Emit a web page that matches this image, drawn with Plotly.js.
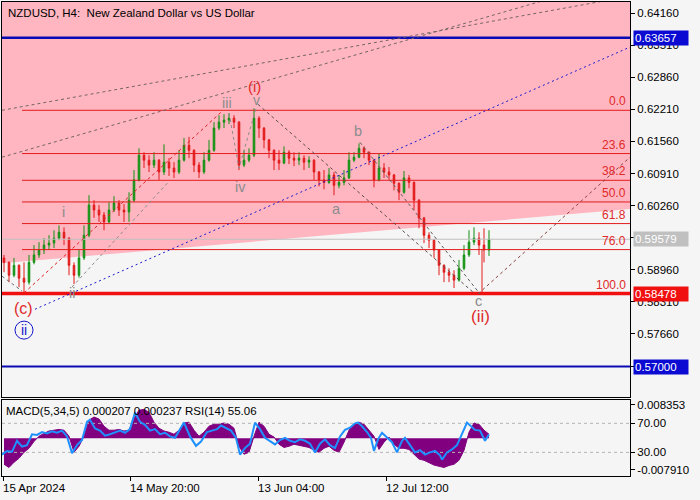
<!DOCTYPE html>
<html><head><meta charset="utf-8">
<script src="https://cdn.plot.ly/plotly-3.0.1.min.js"></script>
<style>html,body{margin:0;padding:0;background:#F5F5F5;}#chart{width:700px;height:500px;}</style>
</head><body><div id="chart"></div>
<script>
// ---------- text ----------
const chartTitle = 'NZDUSD, H4:\u00A0\u00A0New Zealand Dollar vs US Dollar';
const indicatorTitle = 'MACD(5,34,5) 0.000207 0.000237 RSI(14) 55.06';
const dateTickBars = [1, 128, 256, 384];
const dateTickLabels = ['15 Apr 2024', '14 May 20:00', '13 Jun 04:00', '12 Jul 12:00'];
const priceTicks = [0.64160, 0.63510, 0.62860, 0.62210, 0.61560, 0.60910, 0.60260, 0.59610, 0.58960, 0.58310, 0.57660, 0.57010];
// tick labels that sit under the price boxes on the right are not shown
const priceTickLabels = ['0.64160', '0.63510', '0.62860', '0.62210', '0.61560', '0.60910', '0.60260', '', '0.58960', '0.58310', '0.57660', ''];

// ---------- price data (5-bar groups, H4) ----------
const candleOpen = [0.5920,0.5911,0.5885,0.5905,0.5879,0.5871,0.5911,0.5926,0.5936,0.5946,
0.5950,0.5960,0.5972,0.5960,0.5905,0.5885,0.5920,0.5966,0.6027,0.6017,
0.6007,0.5993,0.6017,0.6031,0.6017,0.6013,0.6037,0.6078,0.6128,0.6118,
0.6108,0.6118,0.6094,0.6114,0.6102,0.6094,0.6118,0.6148,0.6138,0.6108,
0.6094,0.6118,0.6138,0.6183,0.6195,0.6199,0.6203,0.6195,0.6108,0.6118,
0.6128,0.6203,0.6183,0.6159,0.6138,0.6118,0.6112,0.6134,0.6122,0.6118,
0.6122,0.6114,0.6118,0.6094,0.6078,0.6073,0.6088,0.6067,0.6073,0.6082,
0.6118,0.6124,0.6142,0.6134,0.6118,0.6078,0.6102,0.6094,0.6088,0.6071,
0.6053,0.6082,0.6073,0.6037,0.6001,0.5966,0.5956,0.5936,0.5905,0.5891,
0.5885,0.5875,0.5899,0.5926,0.5952,0.5960,0.5946,0.5936];
const candleHigh = [0.5926,0.5913,0.5920,0.5907,0.5911,0.5926,0.5946,0.5952,0.5960,0.5966,
0.5976,0.5986,0.5982,0.5962,0.5911,0.5936,0.5986,0.6047,0.6037,0.6027,
0.6013,0.6033,0.6045,0.6037,0.6029,0.6053,0.6098,0.6142,0.6134,0.6128,
0.6134,0.6120,0.6150,0.6122,0.6114,0.6138,0.6163,0.6165,0.6140,0.6114,
0.6134,0.6159,0.6195,0.6209,0.6211,0.6213,0.6209,0.6197,0.6138,0.6142,
0.6223,0.6207,0.6185,0.6161,0.6140,0.6138,0.6146,0.6138,0.6134,0.6134,
0.6128,0.6126,0.6120,0.6096,0.6098,0.6102,0.6094,0.6088,0.6098,0.6134,
0.6134,0.6152,0.6146,0.6136,0.6120,0.6132,0.6112,0.6104,0.6090,0.6073,
0.6096,0.6088,0.6075,0.6039,0.6003,0.5972,0.5958,0.5938,0.5907,0.5899,
0.5895,0.5916,0.5946,0.5976,0.5982,0.5972,0.5980,0.5976];
const candleLow = [0.5891,0.5871,0.5881,0.5861,0.5848,0.5866,0.5907,0.5920,0.5928,0.5936,
0.5940,0.5956,0.5946,0.5885,0.5867,0.5880,0.5916,0.5962,0.6001,0.5993,
0.5976,0.5990,0.6013,0.6005,0.5993,0.5993,0.6033,0.6075,0.6102,0.6094,
0.6102,0.6078,0.6088,0.6086,0.6082,0.6090,0.6115,0.6122,0.6094,0.6082,
0.6090,0.6115,0.6135,0.6179,0.6183,0.6191,0.6183,0.6098,0.6104,0.6114,
0.6124,0.6163,0.6142,0.6122,0.6098,0.6098,0.6110,0.6110,0.6106,0.6108,
0.6098,0.6102,0.6078,0.6065,0.6059,0.6070,0.6047,0.6061,0.6067,0.6080,
0.6114,0.6122,0.6122,0.6108,0.6063,0.6075,0.6082,0.6078,0.6057,0.6037,
0.6050,0.6061,0.6017,0.5980,0.5950,0.5940,0.5920,0.5885,0.5871,0.5871,
0.5859,0.5872,0.5895,0.5922,0.5946,0.5926,0.5911,0.5924];
const candleClose = [0.5911,0.5885,0.5905,0.5879,0.5871,0.5911,0.5926,0.5936,0.5946,0.5950,
0.5960,0.5972,0.5960,0.5905,0.5885,0.5920,0.5966,0.6027,0.6017,0.6007,
0.5993,0.6017,0.6031,0.6017,0.6013,0.6037,0.6078,0.6128,0.6118,0.6108,
0.6118,0.6094,0.6114,0.6102,0.6094,0.6118,0.6148,0.6138,0.6108,0.6094,
0.6118,0.6138,0.6183,0.6195,0.6199,0.6203,0.6195,0.6108,0.6118,0.6128,
0.6203,0.6183,0.6159,0.6138,0.6118,0.6112,0.6134,0.6122,0.6118,0.6122,
0.6114,0.6118,0.6094,0.6078,0.6073,0.6088,0.6067,0.6073,0.6082,0.6118,
0.6124,0.6142,0.6134,0.6118,0.6078,0.6102,0.6094,0.6088,0.6071,0.6053,
0.6082,0.6073,0.6037,0.6001,0.5966,0.5956,0.5936,0.5905,0.5891,0.5885,
0.5875,0.5899,0.5926,0.5952,0.5960,0.5946,0.5936,0.5958];
// bar index of each group (time axis, one unit per H4 bar)
const groupBars = candleClose.map((_, i) => 2 + 5 * i);

// ---------- indicators ----------
const macdHist = [-0.0065,-0.0073,-0.0060,-0.0050,-0.0035,-0.0025,-0.0008,0.0005,0.0012,0.0018,
0.0020,0.0022,0.0020,0.0005,-0.0035,-0.0020,0.0005,0.0045,0.0053,0.0048,
0.0030,0.0020,0.0020,0.0022,0.0018,0.0020,0.0050,0.0070,0.0072,0.0065,
0.0040,0.0025,0.0018,0.0015,0.0010,0.0020,0.0038,0.0040,0.0020,0.0005,
0.0015,0.0030,0.0035,0.0035,0.0038,0.0035,0.0025,-0.0020,-0.0040,-0.0035,
0.0005,0.0040,0.0030,0.0010,0.0003,-0.0015,-0.0023,-0.0020,-0.0015,-0.0018,
-0.0020,-0.0023,-0.0030,-0.0035,-0.0025,-0.0020,-0.0030,-0.0035,-0.0010,0.0020,
0.0035,0.0040,0.0035,0.0020,0.0005,-0.0028,-0.0010,0.0003,-0.0015,-0.0025,
-0.0025,-0.0028,-0.0040,-0.0052,-0.0055,-0.0060,-0.0067,-0.0070,-0.0073,-0.0068,
-0.0065,-0.0055,-0.0030,0.0015,0.0038,0.0035,0.0020,0.0010];
const rsiBars = [0,5,10,15,20,25,30,35,40,45,50,55,60,65,70,75,80,85,88,93,98,103,108,113,118,123,128,133,138,143,148,153,158,163,168,173,178,182,188,194,199,205,210,215,219,224,229,234,238,243,248,253,258,263,268,273,278,283,288,293,298,303,308,313,318,323,328,333,338,343,348,353,356,360,365,369,372,376,380,385,390,395,400,403,408,413,418,423,428,433,438,440,445,450,455,460,465,469,473,478,483,487];
const rsiValues = [27,32,31,46,38,40,55,54,58,56,59,57,60,52,29,40,47,72,75,63,60,53,55,58,60,57,62,85,72,68,60,62,55,57,52,50,62,71,52,39,45,58,60,62,67,64,60,50,27,36,42,71,62,50,46,41,47,50,46,44,48,46,42,30,42,48,40,36,52,61,64,70,71,66,58,50,32,48,57,50,44,30,46,50,40,30,33,27,30,32,26,20,30,34,40,55,71,66,61,60,46,55.06];
const rsiLevels = [70, 30];

// ---------- levels ----------
const resistanceLevel = 0.63657;
const supportLevel = 0.57000;
const targetLevel = 0.58478;
const lastPrice = 0.59579;
const fibHigh = 0.6219;
const fibLow = 0.58478;
const fibRatios = [0.0, 23.6, 38.2, 50.0, 61.8, 76.0, 100.0];
const fibStartBar = 20;

// ---------- drawn objects (bar, price) ----------
const pinkZoneBars = [0, 628];
const pinkZonePrices = [0.5909, 0.6019];
const channelUpperBars = [0, 628], channelUpperPrices = [0.6219, 0.6450];
const channelLowerBars = [0, 560], channelLowerPrices = [0.6124, 0.6452];
const blueTrendBars = [33, 628], blueTrendPrices = [0.5816, 0.6347];
const redWaveBars = [22, 219], redWavePrices = [0.5849, 0.6215];
const grayIIBars = [70, 166], grayIIPrices = [0.5861, 0.6073];
const grayIVBars = [227, 237, 254], grayIVPrices = [0.6213, 0.6102, 0.6223];
const grayInBars = [0, 20], grayInPrices = [0.5883, 0.5853];
const vToCBars = [256, 472], vToCPrices = [0.6231, 0.5849];
const bToCBars = [358, 478], bToCPrices = [0.6154, 0.5847];
const projBars = [476, 628], projPrices = [0.5847, 0.6124];
const markerBar = 480;

const waveLabels = [
  {t:'i', bar:61, p:0.6013, c:'#8c8c8c', s:14.5},
  {t:'ii', bar:70, p:0.5849, c:'#8c8c8c', s:14.5},
  {t:'iii', bar:225, p:0.6233, c:'#8c8c8c', s:14.5},
  {t:'iv', bar:238, p:0.6063, c:'#8c8c8c', s:14.5},
  {t:'v', bar:254, p:0.6240, c:'#8c8c8c', s:14},
  {t:'a', bar:334, p:0.6019, c:'#8c8c8c', s:14.5},
  {t:'b', bar:356, p:0.6177, c:'#8c8c8c', s:14.5},
  {t:'c', bar:476, p:0.5833, c:'#8c8c8c', s:14.5},
  {t:'(i)', bar:252, p:0.6268, c:'#e02a2a', s:15},
  {t:'(ii)', bar:478, p:0.5802, c:'#e02a2a', s:17},
  {t:'(c)', bar:21, p:0.5818, c:'#e02a2a', s:16},
  {t:'ii', bar:22, p:0.57738, c:'#1515cc', s:14}
];

// ---------- build ----------
const FONT = 'Liberation Sans, Arial, sans-serif';
const X0 = 0, X1 = 628;
const Y0 = 0.56384, Y1 = 0.64383;

function ln(xs, ys, color, width, dash, xa, ya) {
  return {type:'scatter', mode:'lines', x:xs, y:ys, xaxis:xa||'x', yaxis:ya||'y',
    line:{color:color, width:width, dash:dash||'solid'}, hoverinfo:'skip', showlegend:false};
}

const fibPrice = r => fibHigh - (fibHigh - fibLow) * r / 100;

const traces = [];
traces.push({type:'candlestick', x:groupBars, open:candleOpen, high:candleHigh, low:candleLow, close:candleClose,
  xaxis:'x', yaxis:'y', whiskerwidth:0,
  increasing:{line:{color:'#128f12', width:1}, fillcolor:'#18a018'},
  decreasing:{line:{color:'#e01818', width:1}, fillcolor:'#e82020'},
  hoverinfo:'skip', showlegend:false});

// horizontal levels
traces.push(ln([X0, X1], [lastPrice, lastPrice], '#c0c0c0', 1));
fibRatios.slice(0, 6).forEach(r => traces.push(ln([fibStartBar, X1], [fibPrice(r), fibPrice(r)], '#e41c1c', 1)));
traces.push(ln([X0, X1], [targetLevel, targetLevel], '#f01010', 3.5));
traces.push(ln([X0, X1], [resistanceLevel, resistanceLevel], '#0a0ab4', 2.5));
traces.push(ln([X0, X1], [supportLevel, supportLevel], '#0a0ab4', 2));
traces.push(ln([markerBar, markerBar], [fibPrice(76.0), fibPrice(100.0)], '#e41c1c', 1));

// trend / wave lines
traces.push(ln(channelUpperBars, channelUpperPrices, '#746464', 1, '3px,3px'));
traces.push(ln(channelLowerBars, channelLowerPrices, '#746464', 1, '3px,3px'));
traces.push(ln(blueTrendBars, blueTrendPrices, '#1a1ad0', 1, '2px,3px'));
traces.push(ln(redWaveBars, redWavePrices, '#e02020', 1, '3px,3px'));
traces.push(ln(grayIIBars, grayIIPrices, '#8a8a8a', 1, '3px,3px'));
traces.push(ln(grayIVBars, grayIVPrices, '#8a8a8a', 1, '3px,3px'));
traces.push(ln(grayInBars, grayInPrices, '#6a6a6a', 1, '3px,3px'));
traces.push(ln(vToCBars, vToCPrices, '#5a4a4a', 1, '3px,3px'));
traces.push(ln(bToCBars, bToCPrices, '#5a5a5a', 1, '3px,3px'));
traces.push(ln(projBars, projPrices, '#8a4040', 1, '3px,3px'));

// indicator pane
traces.push({type:'scatter', mode:'lines', x:groupBars, y:macdHist, xaxis:'x2', yaxis:'y2',
  fill:'tozeroy', fillcolor:'#800080', line:{color:'#800080', width:1}, hoverinfo:'skip', showlegend:false});
rsiLevels.forEach(v => traces.push(ln([X0, X1], [v, v], '#b4b4b4', 1, '3px,3px', 'x2', 'y3')));
traces.push(ln(rsiBars, rsiValues, '#1e90ff', 2, 'solid', 'x2', 'y3'));

// shapes
const shapes = [];
shapes.push({type:'path', xref:'x', yref:'y', layer:'below', line:{width:0}, fillcolor:'#ffb6c1',
  path:`M ${pinkZoneBars[0]},${pinkZonePrices[0]} L ${pinkZoneBars[1]},${pinkZonePrices[1]} L ${pinkZoneBars[1]},${Y1} L ${pinkZoneBars[0]},${Y1} Z`});
const circ = waveLabels[waveLabels.length - 1];
shapes.push({type:'circle', xref:'x', yref:'y', xsizemode:'pixel', ysizemode:'pixel',
  xanchor:circ.bar, yanchor:circ.p, x0:-9, x1:9, y0:-9, y1:9, line:{color:'#1515cc', width:1}});

// annotations
const ann = [];
ann.push({xref:'paper', yref:'paper', x:0, y:1, xanchor:'left', yanchor:'top', xshift:4, yshift:-3,
  text:chartTitle, showarrow:false, font:{family:FONT, size:11.5, color:'#000'}});
ann.push({xref:'paper', yref:'paper', x:0, y:0.1603, xanchor:'left', yanchor:'top', xshift:2, yshift:-3,
  text:indicatorTitle, showarrow:false, font:{family:FONT, size:11.5, color:'#000'}});
dateTickBars.forEach((b, i) => ann.push({xref:'x2', yref:'paper', x:b, y:0, xanchor:'left', yanchor:'top', yshift:-4, xshift:-2,
  text:dateTickLabels[i], showarrow:false, font:{family:FONT, size:11.5, color:'#000'}}));
fibRatios.forEach(r => ann.push({xref:'x', yref:'y', x:X1 - 2, y:fibPrice(r), xanchor:'right', yanchor:'bottom', yshift:0,
  text:r.toFixed(1), showarrow:false, font:{family:FONT, size:12, color:'#e02a2a'}}));
waveLabels.forEach(w => ann.push({xref:'x', yref:'y', x:w.bar, y:w.p, xanchor:'center', yanchor:'middle',
  text:w.t, showarrow:false, borderpad:0, font:{family:FONT, size:w.s, color:w.c}}));
[[resistanceLevel, '#0a0ad2', '#ffffff'], [lastPrice, '#c0c0c0', '#ffffff'], [targetLevel, '#f01010', '#ffffff'], [supportLevel, '#0a0ad2', '#ffffff']]
  .forEach(([v, bg, fg]) => ann.push({xref:'paper', yref:'y', x:1, y:v, xanchor:'left', yanchor:'middle', xshift:3,
    text:v.toFixed(5), showarrow:false, bgcolor:bg, borderpad:1, width:52, align:'left',
    font:{family:FONT, size:11.5, color:fg}}));

const axisCommon = {showgrid:false, zeroline:false, showline:true, mirror:true, linecolor:'#000', linewidth:1, fixedrange:true};
const layout = {
  width:700, height:500, margin:{l:2, r:70, t:2, b:24},
  paper_bgcolor:'#f5f5f5', plot_bgcolor:'#f5f5f5', showlegend:false, hovermode:false,
  boxgap:0.55,
  font:{family:FONT, size:11.5, color:'#000'},
  xaxis:Object.assign({}, axisCommon, {domain:[0,1], range:[X0, X1], anchor:'y', showticklabels:false, ticks:'', rangeslider:{visible:false}}),
  yaxis:Object.assign({}, axisCommon, {domain:[0.1667,1], range:[Y0, Y1], side:'right', tickvals:priceTicks, ticktext:priceTickLabels,
    ticks:'outside', ticklen:4, tickcolor:'#000', tickfont:{family:FONT, size:11.5}}),
  xaxis2:Object.assign({}, axisCommon, {domain:[0,1], range:[X0, X1], anchor:'y2', tickvals:dateTickBars,
    ticks:'outside', ticklen:4, tickcolor:'#000', showticklabels:false}),
  yaxis2:Object.assign({}, axisCommon, {domain:[0,0.1603], range:[-0.009427, 0.009542], side:'right', anchor:'x2',
    tickvals:[0.008353, -0.007910], ticktext:['0.008353', '-0.007910'], ticks:'outside', ticklen:4, tickcolor:'#000', tickfont:{family:FONT, size:11.5}}),
  yaxis3:{overlaying:'y2', anchor:'x2', range:[-2.5, 102.1], side:'right', tickvals:rsiLevels, ticktext:rsiLevels.map(v => v.toFixed(2)),
    ticks:'outside', ticklen:4, tickcolor:'#000', showgrid:false, zeroline:false, showline:false, fixedrange:true, tickfont:{family:FONT, size:11.5}},
  shapes:shapes, annotations:ann
};

Plotly.newPlot('chart', traces, layout, {staticPlot:true, displayModeBar:false});
</script></body></html>
